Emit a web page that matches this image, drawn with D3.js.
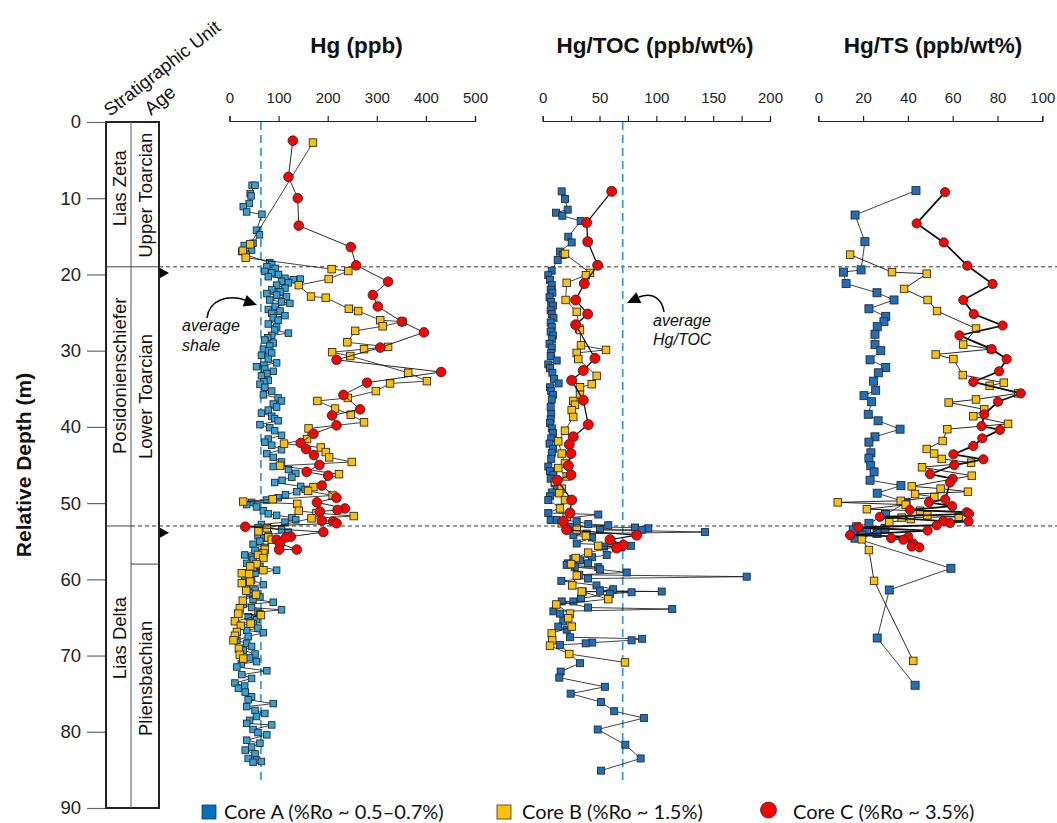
<!DOCTYPE html>
<html><head><meta charset="utf-8">
<script src="https://cdn.jsdelivr.net/npm/d3@7"></script>
<style>body{margin:0;background:#fff}</style>
</head><body>
<svg id="c" width="1057" height="823"></svg>
<script>
// ---------- tick labels ----------
const depthTicks = [0,10,20,30,40,50,60,70,80,90];
const hgTicks = [0,100,200,300,400,500];
const tocTicks = [0,25,50,75,100,125,150,175,200];
const tsTicks = [0,20,40,60,80,100];
const panelTitles = ["Hg (ppb)","Hg/TOC (ppb/wt%)","Hg/TS (ppb/wt%)"];
const legendLabels = ["Core A (%Ro ~ 0.5\u20130.7%)","Core B (%Ro ~ 1.5%)","Core C (%Ro ~ 3.5%)"];
// ---------- stratigraphy (depth, m) ----------
const units = [["Lias Zeta",0,19],["Posidonienschiefer",19,53],["Lias Delta",53,90]];
const ages = [["Upper Toarcian",0,19],["Lower Toarcian",19,58],["Pliensbachian",58,90]];
const avgShaleHg = 64;   // ppb
const avgHgTOC = 70.4;   // ppb/wt%
// ---------- data: [depth m, value] ----------
const hgCoreA = [[8.3,46],[8.3,52],[9.4,42],[9.7,44],[10.7,40],[11.1,28],[11.8,35],[12.1,66],[14.2,55],[14.8,61],[15.9,48],[16.2,30],[16.8,45],[17.0,25],[17.45,34],
[18.45,82],[18.7,86],[19.0,76],[19.2,93],[19.6,72],[19.8,86],[20.0,100],[20.3,79],[20.5,113],[20.6,144],[20.7,130],[20.9,106],[21.1,120],[21.4,96],[21.8,113],[22.0,86],[22.3,103],[22.5,76],[22.7,96],[22.9,116],[23.35,82],[23.6,106],[23.8,123],[24.2,93],[24.6,79],[24.8,103],[25.1,86],[25.4,113],[25.7,89],[26.0,99],[26.5,79],[26.9,96],
[27.3,92],[27.7,120],[28.0,86],[28.3,78],[28.6,72],[29.0,89],[29.4,82],[29.8,69],[30.0,80],[30.3,86],[30.6,65],[31.1,79],[31.6,96],[31.9,70],[32.1,55],[32.4,72],[32.7,89],[33.0,76],[33.3,65],[33.9,79],[34.1,70],[34.4,62],[34.8,72],[35.3,86],[35.8,69],[36.2,99],[36.6,106],[37.0,89],[37.4,96],[37.8,79],[38.2,65],[38.6,86],[38.9,92],[39.2,99],[39.7,62],[40.1,82],[40.5,92],[41.1,106],[41.6,79],[42.0,72],[42.4,86],[43.0,106],[43.5,76],[44.0,89],[44.6,106],[45.2,89],[45.6,120],[46.1,135],[46.6,127],[47.0,107],[47.3,92],[47.8,145],[48.2,154],[48.5,137],[48.9,114],[49.3,99],[49.6,75],[49.9,45],[50.2,35],[50.5,55],[51.0,69],[51.4,79],[51.6,96],[51.9,127],[52.2,135],[52.5,113],[52.8,65],[53.2,58],[53.5,106],[53.8,120],[54.1,79],[54.3,58],
[54.6,70],[55.0,62],[55.4,48],[55.8,72],[56.2,52],[56.8,31],[57.1,45],[57.4,48],[57.9,35],[58.3,62],[58.8,96],[59.2,52],[59.6,31],[60.1,45],[60.7,69],[60.9,35],[61.4,52],[61.8,41],[62.3,62],[62.6,48],[63.0,89],[63.3,28],[63.7,45],[64.0,106],[64.3,58],[64.5,62],[64.9,38],[65.3,55],[65.8,48],[66.4,58],[66.7,35],[67.0,69],[67.5,38],[68.0,15],[68.4,35],[68.8,45],[69.3,28],[69.8,52],[70.3,41],[70.8,55],[71.1,24],[71.5,15],[72.0,76],[72.5,25],[73.0,45],[73.6,11],[74.0,31],[74.3,18],[74.8,32],[75.4,45],[75.8,38],[76.3,89],[76.7,35],[77.2,52],[77.6,72],[78.0,55],[78.5,41],[78.9,35],[79.1,86],[79.7,48],[80.1,58],[80.4,76],[81.1,35],[81.5,62],[82.0,45],[82.4,32],[82.9,52],[83.5,38],[83.7,55],[83.9,65],[84.0,48]];
const hgCoreB = [[2.7,170],[16.05,42],[16.9,27],[17.8,33],[19.3,208],[19.55,242],[20.6,202],[21.4,141],[22.9,166],[23.05,196],[24.5,243],[24.8,262],[26.0,307],[26.2,352],[26.8,312],[27.4,256],[28.9,240],[29.5,323],[29.8,274],[30.2,209],[30.7,246],[32.9,364],[34.0,402],[34.3,327],[35.3,298],[36.2,241],[36.6,179],[37.6,215],[38.4,247],[39.4,274],[40.2,161],[41.6,158],[42.2,111],[42.7,186],[43.3,196],[44.0,203],[44.6,249],[45.1,103],[46.2,223],[47.9,171],[48.4,160],[49.0,210],[49.5,88],[49.8,28],[50.1,138],[51.0,141],[51.3,177],[51.7,253],[52.0,167],[53.3,76],[53.7,59],[54.5,79],[54.8,86],[56.1,72],[56.6,69],[56.8,58],[57.2,69],[58.0,55],[58.3,42],[58.8,69],[59.2,25],[59.3,40],[60.3,42],[60.5,25],[61.5,34],[62.0,54],[62.8,27],[63.8,21],[64.5,18],[64.7,64],[65.5,11],[65.8,43],[66.1,23],[66.9,15],[67.4,11],[68.0,8],[69.1,19],[69.9,21],[70.4,28]];
const hgCoreC = [[2.45,129],[7.2,120],[10.0,139],[13.6,141],[16.4,247],[18.8,258],[20.95,323],[22.7,292],[24.2,302],[26.2,351],[27.6,396],[29.6,307],[31.2,218],[32.8,431],[34.2,280],[35.8,232],[37.7,266],[38.5,209],[39.8,218],[40.9,171],[42.1,145],[42.9,156],[43.7,172],[45.0,183],[45.9,157],[46.4,201],[47.7,188],[49.3,218],[49.9,178],[50.7,235],[50.9,220],[51.1,184],[52.3,188],[52.4,211],[52.65,218],[53.1,32],[53.8,191],[54.4,125],[54.5,115],[54.8,96],[55.3,103],[56.1,137],[56.1,101]];

const tocCoreA = [[9.1,16.7],[10.1,19.6],[11.5,22],[11.9,11.7],[12.3,17.3],[13.0,33.4],[15.05,22.5],[15.8,25.5],[17.0,15.2],[17.45,17.6],[18.1,13.2],[19.5,7.9],[20.1,4.9],[20.7,6.4],
[21.4,8],[22.0,7],[22.4,8.5],[23.0,6],[23.6,7.5],[24.1,9],[24.7,7],[25.2,8],[25.7,9.5],[26.3,7],[26.9,8],[27.5,7],[28.0,9],[28.5,8],[29.1,6],[29.6,8],[30.3,7.5],[30.7,7],[31.3,12.3],[31.8,4.9],[32.3,6.4],[32.9,8.5],[33.7,10],[34.3,14],[34.8,6.4],[35.3,7.5],[35.8,9],[36.4,8],[37.4,7],[38.3,7.5],[39.0,7],[39.5,6.4],[40.2,8],[40.8,9],[41.5,7.5],[42.2,6],[42.9,9],[43.4,8],[44.2,7.5],[45.2,4.9],[45.8,6.4],[46.3,9.4],[46.8,7],[47.4,10.5],[48.1,12.3],[48.6,8],[49.1,6.4],[49.6,4.9],
[50.6,15.2],[51.3,4.9],[51.5,48.9],[52.2,7],[52.2,12.3],[52.4,29.9],[52.75,40.1],[52.9,57.7],[53.1,24],[53.2,81.2],[53.3,92.9],[53.5,87.1],[53.5,50.4],[53.8,142.8],[54.0,38.7],[54.2,27],[54.5,43.4],[55.3,29.9],[55.6,77.6],[55.7,54.1],[55.8,68.8],[56.8,56.3],[57.1,43.4],[57.3,27],[57.5,32.8],[57.9,22.3],[57.9,39.9],[58.1,21.1],[58.4,48.9],[58.4,28.2],[58.7,50.4],[59.1,73.9],[59.4,32.2],[59.65,179.5],[59.9,39.9],[60.2,16.4],[60.8,47.3],[61.3,62],[61.5,50.4],[61.6,104.7],[61.6,35.2],[61.7,78.2],[61.9,59.2],[62.5,33.7],[62.9,27],[62.9,16.7],[63.7,39.9],[63.9,114],[64.2,9.4],[64.5,15.2],[65.5,18.1],[66.2,13.7],[66.6,21.1],[67.6,24],[67.8,87.5],[68.0,78.2],[68.3,43.6],[68.4,37.8],[68.6,15.2],[71.0,32.8],[72.1,15.8],[72.9,14.6],[74.1,54.7],[75.0,24.6],[76.1,51.3],[77.3,62.9],[78.2,89],[79.7,48.4],[81.7,72.7],[83.5,86.2],[85.1,51.3]];
const tocCoreB = [[17.3,19.6],[19.8,41.6],[20.1,38],[21.1,21.1],[23.35,20.2],[24.9,29.9],[27.1,32.2],[27.3,32.8],[29.3,33.7],[29.9,55.7],[30.3,29.9],[31.1,31.3],[33.3,47.5],[34.4,43.1],[34.8,32.8],[35.8,32.8],[36.6,26.9],[37.1,28.4],[37.8,25.5],[38.7,26.9],[40.5,19.6],[41.9,13.7],[43.5,16.7],[44.8,19.6],[45.4,13.7],[46.5,21.1],[47.2,10.8],[48.1,16.7],[48.7,14.6],[49.6,19.6],[50.7,15.2],[51.8,21.1],[52.65,16.7],[53.5,30],[54.3,38],[55.6,48.9],[55.7,65.1],[56.5,40],[57.2,29],[58.0,25],[59.5,30],[60.8,26],[61.6,34.3],[62.6,57.7],[63.3,12],[64.5,24],[65.1,22.5],[66.2,25.5],[67.1,7.9],[68.0,8.4],[68.7,6.4],[69.8,23.4],[70.9,72.4]];
const tocCoreC = [[9.1,60.7],[13.2,38.7],[15.7,39.6],[18.8,48.4],[21.2,36.6],[23.35,29],[25.2,39.6],[26.6,29],[31.0,46],[32.6,35.7],[33.9,25.5],[36.5,35.7],[39.7,40.1],[41.3,26.9],[42.3,23.4],[43.5,24.9],[45.1,22.6],[46.3,24.9],[47.0,12.9],[49.6,25.5],[51.3,24],[52.4,18.1],[53.5,21.1],[54.2,82.7],[54.8,59.2],[55.5,70.9],[55.9,65.1]];

const tsCoreA = [[9.0,43.6],[12.2,16.4],[15.7,20.8],[19.4,19.1],[19.7,11.2],[21.2,12.4],[22.4,26.2],[23.35,33.8],[24.5,22.6],[25.5,30.1],[26.2,29.3],[26.85,26.3],[27.85,25.3],[29.2,25.3],[30.0,27.9],[31.2,23.1],[32.2,30.1],[32.9,26.8],[34.0,24.6],[35.2,25.6],[35.9,20.4],[36.7,23.8],[38.35,22.3],[39.2,26.7],[40.3,36.5],[41.3,25.3],[42.0,22.6],[43.4,23.5],[44.1,22.6],[45.1,23.4],[45.9,24.9],[47.0,23.1],[47.7,36.9],[48.7,26.3],[49.9,39.2],[51.5,30],[52.65,22.6],[53.1,17.1],[53.3,29.8],[53.5,15.6],[53.7,21.6],[54.0,26.2],[54.2,19.4],[54.6,16.4],[58.55,59.2],[61.4,31.7],[67.7,26.3],[73.9,43.2]];
const tsCoreB = [[17.4,14.2],[19.7,32.9],[19.9,48.4],[21.9,38.3],[23.35,48.8],[24.8,53],[27.1,70.4],[29.2,64.7],[29.8,77.1],[30.5,52.4],[31.1,60.3],[33.2,64.5],[34.2,82.8],[34.6,76.5],[35.6,89.3],[36.4,70.4],[36.8,58.2],[37.7,74.1],[38.6,69.2],[39.6,84.7],[40.3,57.6],[41.85,55.5],[42.9,48.4],[43.5,51.7],[44.2,55.1],[44.7,68.2],[45.3,46.3],[46.4,68.5],[47.8,41.7],[48.1,54.6],[48.5,66.8],[48.8,43.2],[49.2,51.8],[49.7,36.8],[49.9,8.7],[50.2,39],[50.8,21.7],[51.0,45.4],[51.6,48.7],[51.8,62.7],[51.9,37.2],[52.1,41.3],[52.5,31.7],[54.75,19.4],[56.15,22.6],[60.2,24.9],[70.7,42.4]];
const tsCoreC = [[9.2,56.6],[13.3,43.9],[15.8,56],[18.85,66.5],[21.25,77.8],[23.35,64.7],[25.2,69.4],[26.7,82.3],[28.0,63],[29.8,77.4],[31.1,84.1],[32.7,80.7],[34.1,69.2],[35.6,90.4],[36.7,80.2],[38.35,74.1],[39.9,72.9],[40.4,81.1],[41.5,73.2],[42.5,69.2],[43.6,60.3],[44.25,73.7],[45.0,60.7],[46.2,49.9],[46.8,60],[47.3,58.8],[49.5,56.7],[49.9,49.4],[50.4,59.8],[50.9,40.9],[51.2,66.2],[51.4,67.3],[51.8,27.5],[52.35,55.8],[52.4,67.1],[52.6,58.8],[52.9,52.9],[53.2,17.9],[53.6,48.8],[54.2,14.2],[54.4,40.2],[54.6,32.5],[54.8,38],[55.3,42.4],[55.7,41.7],[55.8,45.1]];

// ---------- drawing ----------
const svg = d3.select("#c");
svg.append("rect").attr("width",1057).attr("height",823).attr("fill","#fff");
const FONT = "'Liberation Sans', Arial, sans-serif";
const y = d3.scaleLinear().domain([0,90]).range([122,808]);
const xHg = d3.scaleLinear().domain([0,500]).range([229.5,475]);
const xToc = d3.scaleLinear().domain([0,200]).range([542.7,770]);
const xTs = d3.scaleLinear().domain([0,100]).range([818.3,1042.3]);
const colL = 106, colM = 131, colR = 159;
const C_A = "#1F6FBF", C_A_HG = "#33A1DB", C_B = "#FFC000", C_C = "#FF0000";

// depth axis
const ya = svg.append("g").attr("transform",`translate(${colL},0)`)
  .call(d3.axisLeft(y).tickValues(depthTicks).tickSize(19).tickPadding(6));
ya.select(".domain").remove();
ya.selectAll(".tick line").attr("stroke","#666").attr("stroke-width",1.2);
ya.selectAll("text").attr("font-family",FONT).attr("font-size",18.5).attr("fill","#222");

svg.append("text").attr("transform",`translate(31,${y(45)}) rotate(-90)`)
  .attr("text-anchor","middle").attr("font-family",FONT).attr("font-weight","bold")
  .attr("font-size",21).attr("fill","#111").text("Relative Depth (m)");

// strat column
svg.append("rect").attr("x",colL).attr("y",y(0)).attr("width",colR-colL).attr("height",y(90)-y(0))
  .attr("fill","none").attr("stroke","#222").attr("stroke-width",2);
svg.append("line").attr("x1",colM).attr("x2",colM).attr("y1",y(0)).attr("y2",y(90)).attr("stroke","#555").attr("stroke-width",1);
svg.append("line").attr("x1",colL).attr("x2",colR).attr("y1",y(19)).attr("y2",y(19)).attr("stroke","#444");
svg.append("line").attr("x1",colL).attr("x2",colM).attr("y1",y(53)).attr("y2",y(53)).attr("stroke","#444");
svg.append("line").attr("x1",colM).attr("x2",colR).attr("y1",y(58)).attr("y2",y(58)).attr("stroke","#444");
const unitPos = {"Lias Zeta":8.7,"Posidonienschiefer":33.3,"Lias Delta":67.7};
units.forEach(u=>{
  svg.append("text").attr("transform",`translate(126,${y(unitPos[u[0]])}) rotate(-90)`)
   .attr("text-anchor","middle").attr("font-family",FONT).attr("font-size",18.5).attr("fill","#111").text(u[0]);
});
const agePos = {"Upper Toarcian":9.6,"Lower Toarcian":36,"Pliensbachian":73};
ages.forEach(u=>{
  svg.append("text").attr("transform",`translate(151.5,${y(agePos[u[0]])}) rotate(-90)`)
   .attr("text-anchor","middle").attr("font-family",FONT).attr("font-size",18.5).attr("fill","#111").text(u[0]);
});
svg.append("text").attr("transform","translate(110,117) rotate(-38)").attr("font-family",FONT)
  .attr("font-size",18.5).attr("fill","#111").text("Stratigraphic Unit");
svg.append("text").attr("transform","translate(151,116) rotate(-40)").attr("font-family",FONT)
  .attr("font-size",19).attr("fill","#111").text("Age");

// boundary dashed lines & triangles
svg.append("line").attr("x1",colR).attr("x2",1057).attr("y1",y(19)).attr("y2",y(19))
  .attr("stroke","#333").attr("stroke-dasharray","4,3").attr("stroke-width",1);
svg.append("line").attr("x1",colM).attr("x2",1057).attr("y1",y(53)).attr("y2",y(53))
  .attr("stroke","#333").attr("stroke-dasharray","4,3").attr("stroke-width",1);
[19.8,53.9].forEach(d=>{
  const yy=y(d);
  svg.append("path").attr("d",`M${colR+1},${yy-5}L${colR+10},${yy}L${colR+1},${yy+5}Z`).attr("fill","#000");
});

// top axes
function topAxis(x, ticks, labelEvery, title, tcx){
  const g = svg.append("g").attr("transform","translate(0,121)")
    .call(d3.axisTop(x).tickValues(ticks).tickSize(5).tickSizeOuter(5).tickPadding(13)
      .tickFormat(v => (v % labelEvery === 0) ? v : ""));
  g.selectAll("path,line").attr("stroke","#222").attr("stroke-width",1.2);
  g.selectAll("text").attr("font-family",FONT).attr("font-size",15).attr("fill","#222");
  svg.append("text").attr("x",tcx).attr("y",53).attr("text-anchor","middle").attr("font-family",FONT)
    .attr("font-weight","bold").attr("font-size",22.5).attr("fill","#111").text(title);
}
topAxis(xHg, hgTicks, 100, panelTitles[0], 356.5);
topAxis(xToc, tocTicks, 50, panelTitles[1], 655);
topAxis(xTs, tsTicks, 20, panelTitles[2], 933);

// average lines
svg.append("line").attr("x1",xHg(avgShaleHg)).attr("x2",xHg(avgShaleHg)).attr("y1",y(0)).attr("y2",y(86.5))
  .attr("stroke","#3399DD").attr("stroke-width",1.7).attr("stroke-dasharray","8,5");
svg.append("line").attr("x1",xToc(avgHgTOC)).attr("x2",xToc(avgHgTOC)).attr("y1",y(0)).attr("y2",y(86.5))
  .attr("stroke","#3399DD").attr("stroke-width",1.7).attr("stroke-dasharray","8,5");

// series
const plot = svg.append("g");
function series(x, data, shape, fill, size, lw){
  const line = d3.line().x(d=>x(d[1])).y(d=>y(d[0]));
  plot.append("path").datum(data).attr("d",line).attr("fill","none").attr("stroke","#111").attr("stroke-width",lw);
  if(shape==="sq"){
    plot.selectAll(null).data(data).join("rect")
      .attr("x",d=>x(d[1])-size/2).attr("y",d=>y(d[0])-size/2).attr("width",size).attr("height",size)
      .attr("fill",fill).attr("stroke","#2a2a2a").attr("stroke-width",0.9);
  } else {
    plot.selectAll(null).data(data).join("circle")
      .attr("cx",d=>x(d[1])).attr("cy",d=>y(d[0])).attr("r",size)
      .attr("fill",fill).attr("stroke","#2a2a2a").attr("stroke-width",0.9);
  }
}
series(xHg, hgCoreA, "sq", C_A_HG, 6.5, 0.8);
series(xHg, hgCoreB, "sq", C_B, 7.5, 0.8);
series(xHg, hgCoreC, "ci", C_C, 4.8, 0.9);
series(xToc, tocCoreA, "sq", C_A, 7, 0.8);
series(xToc, tocCoreB, "sq", C_B, 7.5, 0.8);
series(xToc, tocCoreC, "ci", C_C, 5, 1.3);
series(xTs, tsCoreA, "sq", C_A, 8, 0.8);
series(xTs, tsCoreB, "sq", C_B, 7.5, 0.9);
series(xTs, tsCoreC, "ci", C_C, 4.6, 1.8);

// annotations
function arrow(path, tip, b1, b2){
  svg.append("path").attr("d",path).attr("fill","none").attr("stroke","#000").attr("stroke-width",1.5);
  svg.append("path").attr("d",`M${tip[0]},${tip[1]}L${b1[0]},${b1[1]}L${b2[0]},${b2[1]}Z`).attr("fill","#000");
}
arrow("M207,318 C209,300 228,294 245,300", [257,305],[242.7,306.4],[246.7,295]);
arrow("M664,312 C662,298 652,292 639,297", [627,303],[636.3,292.2],[641.3,303]);
[["average",182,331],["shale",182,351],["average",653,326],["Hg/TOC",653,345]].forEach(t=>{
  svg.append("text").attr("x",t[1]).attr("y",t[2]).attr("font-family",FONT).attr("font-style","italic")
   .attr("font-size",16).attr("fill","#111").text(t[0]);
});

// legend
const LF = "Lato, 'Open Sans', sans-serif";
svg.append("rect").attr("x",202).attr("y",805).attr("width",14).attr("height",14).attr("fill","#0070C0").attr("stroke","#333").attr("stroke-width",0.8);
svg.append("rect").attr("x",497).attr("y",805).attr("width",14).attr("height",14).attr("fill",C_B).attr("stroke","#333").attr("stroke-width",0.8);
svg.append("circle").attr("cx",768.5).attr("cy",810).attr("r",8).attr("fill",C_C).attr("stroke","#333").attr("stroke-width",0.8);
[[legendLabels[0],224],[legendLabels[1],522],[legendLabels[2],793]].forEach(l=>{
  svg.append("text").attr("x",l[1]).attr("y",819).attr("font-family",LF).attr("font-size",20).attr("fill","#111").text(l[0]);
});
</script>
</body></html>
